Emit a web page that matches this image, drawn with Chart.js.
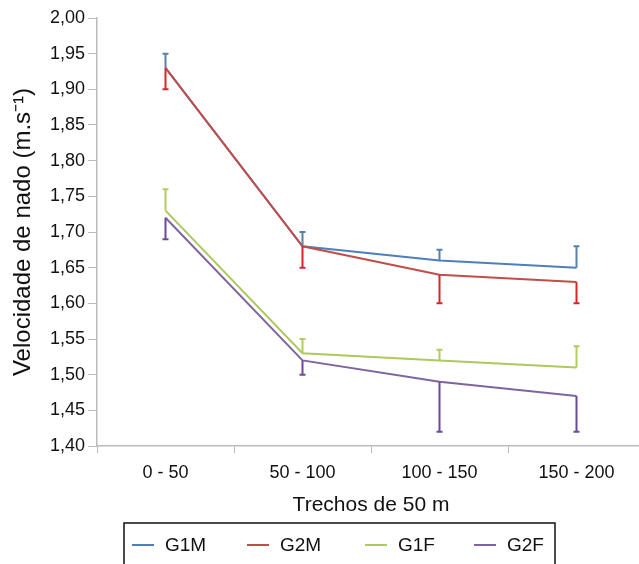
<!DOCTYPE html>
<html>
<head>
<meta charset="utf-8">
<script src="https://cdn.jsdelivr.net/npm/chart.js@4"></script>
<style>
  html, body { margin: 0; padding: 0; background: #fff; overflow: hidden; width: 639px; height: 564px; }
  #wrap { width: 660px; height: 590px; }
</style>
</head>
<body>
<div id="wrap"><canvas id="velChart" width="660" height="590"></canvas></div>
<script>
const categories = ['0 - 50', '50 - 100', '100 - 150', '150 - 200'];
const seriesNames = ['G1M', 'G2M', 'G1F', 'G2F'];

const g1m = [1.93, 1.68, 1.66, 1.65];
const g2m = [1.93, 1.68, 1.64, 1.63];
const g1f = [1.73, 1.53, 1.52, 1.51];
const g2f = [1.72, 1.52, 1.49, 1.47];

// one-sided error bars (positive = up, negative = down)
const g1mErr = [0.02, 0.02, 0.015, 0.03];
const g2mErr = [-0.03, -0.03, -0.04, -0.03];
const g1fErr = [0.03, 0.02, 0.015, 0.03];
const g2fErr = [-0.03, -0.02, -0.07, -0.05];

const lineColors = ['#4f7fba', '#bf4e4b', '#abc95c', '#7e65a0'];
const errColors = ['#5a7fa8', '#d8262c', '#b3cc62', '#6a4a98'];
const drawOrder = [3, 0, 2, 1]; // red drawn over blue like the original

const values = [g1m, g2m, g1f, g2f];
const errors = [g1mErr, g2mErr, g1fErr, g2fErr];

const fontFam = '"Liberation Sans", Arial, sans-serif';

const errorBars = {
    id: 'errorBars',
    afterDatasetsDraw(chart) {
        const ctx = chart.ctx;
        const xs = chart.scales.x, ys = chart.scales.y;
        chart.data.datasets.forEach((ds, i) => {
            const err = errors[i];
            ctx.save();
            ctx.strokeStyle = errColors[i];
            ctx.lineWidth = 2;
            ds.data.forEach((v, j) => {
                const x = xs.getPixelForValue(j);
                const y0 = ys.getPixelForValue(v);
                const y1 = ys.getPixelForValue(v + err[j]);
                ctx.beginPath();
                ctx.moveTo(x, y0);
                ctx.lineTo(x, y1);
                ctx.moveTo(x - 3, y1);
                ctx.lineTo(x + 3, y1);
                ctx.stroke();
            });
            ctx.restore();
        });
    }
};

const boxLegend = {
    id: 'boxLegend',
    afterDraw(chart) {
        const ctx = chart.ctx;
        ctx.save();
        ctx.strokeStyle = '#111';
        ctx.lineWidth = 1.5;
        ctx.strokeRect(124, 523, 431, 80);
        const lineX = [132, 247, 365, 474];
        const ly = 545;
        ctx.font = '19px ' + fontFam;
        ctx.textBaseline = 'middle';
        chart.data.datasets.forEach((ds, i) => {
            ctx.strokeStyle = ds.borderColor;
            ctx.lineWidth = 2;
            ctx.beginPath();
            ctx.moveTo(lineX[i], ly);
            ctx.lineTo(lineX[i] + 22, ly);
            ctx.stroke();
            ctx.fillStyle = '#111';
            ctx.fillText(ds.label, lineX[i] + 33, ly + 1);
        });
        ctx.restore();
    }
};

const ctx = document.getElementById('velChart').getContext('2d');
new Chart(ctx, {
    type: 'line',
    data: {
        labels: categories,
        datasets: seriesNames.map((name, i) => ({
            label: name,
            data: values[i],
            order: drawOrder[i],
            borderColor: lineColors[i],
            backgroundColor: lineColors[i],
            borderWidth: 2,
            pointRadius: 0,
            tension: 0,
            fill: false
        }))
    },
    options: {
        responsive: false,
        animation: false,
        layout: { padding: { left: 0, top: 18, right: 15, bottom: 72 } },
        plugins: {
            legend: { display: false },
            tooltip: { enabled: false }
        },
        scales: {
            x: {
                offset: true,
                grid: {
                    offset: true,
                    drawOnChartArea: false,
                    color: '#bbb',
                    tickLength: 7
                },
                border: { color: '#bbb', width: 1.5 },
                ticks: { color: '#111', font: { family: fontFam, size: 18 }, padding: 9 },
                title: {
                    display: true,
                    text: 'Trechos de 50 m',
                    color: '#111',
                    font: { family: fontFam, size: 21 },
                    padding: { top: 1, bottom: 0 }
                },
                afterFit(scale) { scale.height = 72; }
            },
            y: {
                min: 1.40,
                max: 2.00,
                grid: {
                    drawOnChartArea: false,
                    color: '#bbb',
                    tickLength: 9
                },
                border: { color: '#bbb', width: 1.5 },
                ticks: {
                    stepSize: 0.05,
                    color: '#111',
                    font: { family: fontFam, size: 18 },
                    padding: 3,
                    callback: v => v.toFixed(2).replace('.', ',')
                },
                title: {
                    display: true,
                    text: 'Velocidade de nado (m.s\u207B\u00B9)',
                    color: '#111',
                    font: { family: fontFam, size: 24 },
                    padding: { top: 9, bottom: 0 }
                },
                afterFit(scale) { scale.width = 97; }
            }
        }
    },
    plugins: [errorBars, boxLegend]
});
</script>
</body>
</html>
